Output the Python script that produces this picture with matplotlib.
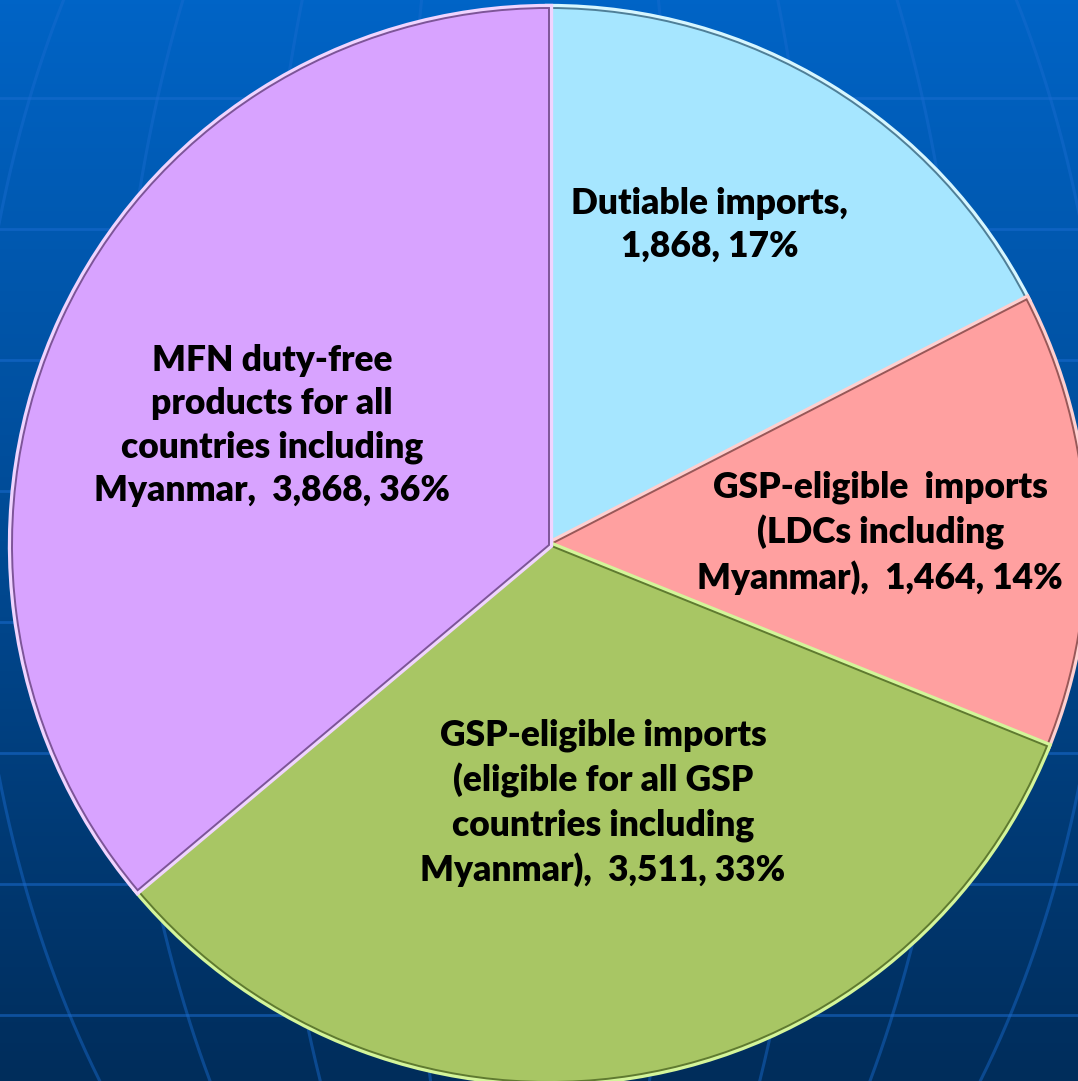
import numpy as np
import matplotlib.pyplot as plt
from matplotlib import patheffects as pe
from matplotlib.colors import LinearSegmentedColormap

W, H = 1078, 1081

labels = [
    "Dutiable imports,\n1,868, 17%",
    "GSP-eligible  imports\n(LDCs including\nMyanmar),  1,464, 14%",
    "GSP-eligible imports\n(eligible for all GSP\ncountries including\nMyanmar),  3,511, 33%",
    "MFN duty-free\nproducts for all\ncountries including\nMyanmar,  3,868, 36%",
]
values = [1868, 1464, 3511, 3868]
colors = ["#a6e6ff", "#ffa0a0", "#a8c664", "#d8a3ff"]
rims = ["#d6f6ff", "#ffd0d0", "#d4f59a", "#f0d4ff"]
edges = ["#4f7f98", "#985858", "#5f7a30", "#7d5598"]
# label block centres (fraction of radius, angle in degrees)
label_pos = [(0.667, 63.3), (0.617, 2.1), (0.491, -78.2), (0.562, 156.6)]

fig = plt.figure(figsize=(W / 100, H / 100), dpi=100)
ax = fig.add_axes([0, 0, 1, 1])

# background gradient
grad = np.linspace(0, 1, 256).reshape(-1, 1)
bg = LinearSegmentedColormap.from_list("bg", ["#002d5b", "#004a94", "#0064c6"])
ax.imshow(grad, extent=[0, W, 0, H], origin="lower", cmap=bg, aspect="auto", zorder=0)

# faint globe grid: parallels on the y ticks, curved meridians
ax.set_yticks(H - np.arange(98, H, 131))
ax.set_xticks([])
ax.grid(axis="y", color="#1a6cd0", lw=2, alpha=0.55, zorder=1)
ax.tick_params(length=0, labelleft=False, labelbottom=False)
for s in ax.spines.values():
    s.set_visible(False)

yy = np.linspace(0, H, 300)
gy = H - 500
for a in [567, 425, 283, 141]:
    xoff = a * np.sqrt(np.clip(1 - ((yy - gy) / 922.0) ** 2, 0, 1))
    for sgn in (-1, 1):
        ax.plot(540 + sgn * xoff, yy, color="#1a6cd0", lw=2.2, alpha=0.45, zorder=1)

cx, cy, r = 549, H - 545, 537
wedges, _ = ax.pie(values, startangle=90, counterclock=False, center=(cx, cy),
                   radius=r, colors=colors, frame=True,
                   wedgeprops=dict(linewidth=1.4, zorder=3))
for w, rc, ec in zip(wedges, rims, edges):
    w.set_edgecolor(ec)
    w.set_path_effects([pe.Stroke(linewidth=6, foreground=rc), pe.Normal()])

ax.set_xlim(0, W)
ax.set_ylim(0, H)
ax.set_aspect("auto")

for lab, (fr, ang) in zip(labels, label_pos):
    t = np.deg2rad(ang)
    ax.text(cx + fr * r * np.cos(t), cy + fr * r * np.sin(t), lab,
            ha="center", va="center", ma="center", fontsize=25.5,
            family="Lato", weight="heavy", color="black",
            linespacing=1.38, zorder=5)

fig.savefig("out.png", dpi=100)
